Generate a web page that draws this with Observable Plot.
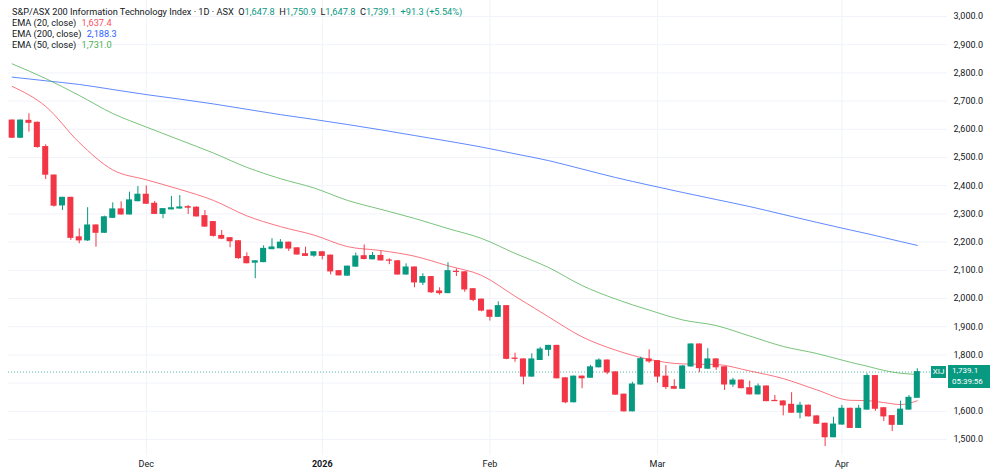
<!DOCTYPE html>
<html>
<head>
<meta charset="utf-8">
<script src="https://cdn.jsdelivr.net/npm/d3@7"></script>
<script src="https://cdn.jsdelivr.net/npm/@observablehq/plot@0.6"></script>
<style>
  html, body { margin: 0; padding: 0; background: #fff; overflow: hidden; }
  #wrap { position: relative; width: 1000px; height: 474px; overflow: hidden;
          font-family: Roboto, "Liberation Sans", sans-serif; color: #131722; }
  #wrap svg { display: block; }
  #legend { position: absolute; left: 12px; top: 5.5px; font-size: 9.2px; line-height: 11.3px; white-space: nowrap; }
  #legend .v { margin-left: 3px; }
  .tag { position: absolute; background: #089981; color: #fff; font-size: 8px; box-sizing: border-box; }
</style>
</head>
<body>
<div id="wrap"></div>
<script>
// Daily OHLC for the S&P/ASX 200 Information Technology Index (XIJ), Nov 2025 – Apr 2026
const openP  = [2631,2570,2630,2623,2537,2436,2330,2357,2217,2206,2259,2233,2286,2316,2298,2345,2368,2336,2300,2316,
                2319,2324,2322,2292,2271,2222,2214,2203,2147,2127,2129,2175,2178,2198,2178,2157,2152,2164,2152,2097,
                2081,2113,2150,2139,2151,2135,2132,2085,2110,2056,2076,2025,2019,2095,2093,2033,1996,1957,1935,1973,
                1787,1784,1723,1782,1818,1832,1717,1632,1723,1719,1756,1780,1738,1659,1600,1695,1784,1778,1723,1686,
                1680,1759,1837,1751,1784,1756,1695,1709,1682,1660,1688,1637,1635,1623,1595,1620,1582,1556,1508,1553,
                1609,1541,1606,1725,1611,1583,1552,1606,1647.8];
const highP  = [2633,2633,2655,2626,2545,2438,2359,2359,2247,2322,2261,2292,2339,2343,2377,2397,2399,2344,2319,2362,
                2365,2330,2325,2312,2273,2241,2216,2205,2162,2134,2187,2212,2209,2200,2180,2182,2166,2166,2154,2099,
                2115,2161,2190,2163,2168,2141,2135,2123,2112,2088,2078,2038,2127,2105,2095,2035,1998,1959,1988,1975,
                1806,1786,1804,1827,1834,1834,1719,1725,1725,1763,1786,1782,1740,1661,1703,1792,1818,1780,1762,1712,
                1762,1839,1839,1822,1786,1758,1717,1711,1707,1697,1690,1656,1637,1666,1632,1622,1584,1558,1579,1621,
                1611,1621,1733,1727,1613,1585,1636,1656,1750.9];
const lowP   = [2568,2568,2590,2533,2422,2324,2312,2206,2194,2202,2182,2231,2284,2296,2296,2343,2334,2298,2283,2314,
                2317,2298,2289,2252,2218,2209,2180,2139,2123,2070,2127,2173,2176,2167,2154,2149,2146,2137,2084,2080,
                2079,2111,2137,2137,2133,2120,2083,2083,2038,2046,2018,2012,2017,2078,2022,1989,1953,1920,1933,1783,
                1774,1694,1721,1780,1794,1715,1627,1630,1680,1717,1754,1730,1657,1597,1598,1693,1770,1700,1677,1678,
                1678,1757,1737,1749,1745,1674,1685,1680,1658,1658,1634,1635,1584,1593,1573,1580,1553,1475,1506,1551,
                1539,1539,1604,1600,1564,1528,1550,1604,1647.8];
const closeP = [2570,2631,2623,2537,2439,2329,2357,2215,2206,2259,2233,2288,2316,2298,2348,2368,2336,2300,2317,2320,
                2323,2322,2291,2255,2222,2212,2203,2143,2125,2132,2176,2181,2198,2177,2156,2151,2164,2151,2096,2082,
                2113,2149,2140,2151,2135,2134,2085,2110,2057,2076,2022,2019,2097,2094,2032,1995,1957,1935,1973,1786,
                1786,1723,1784,1819,1832,1717,1632,1723,1717,1756,1780,1738,1659,1600,1695,1785,1777,1723,1686,1680,
                1759,1837,1753,1784,1756,1695,1709,1682,1660,1688,1636,1636,1621,1595,1620,1582,1556,1508,1553,1609,
                1541,1609,1725,1609,1582,1552,1606,1647.8,1739.1];

// Moving averages read at every fourth session (bar index)
const emaIdx = [0,4,8,12,16,20,24,28,32,36,40,44,48,52,56,60,64,68,72,76,80,84,88,92,96,100,102,104,106,108];
const ema20  = [2752,2681,2553,2456,2421,2387,2348,2293,2255,2225,2184,2170,2150,2116,2082,2008,1935,1864,1817,1784,
                1768,1766,1743,1716,1676,1639,1638,1631,1624,1637.4];
const ema50  = [2832,2780,2720,2656,2608,2562,2516,2465,2425,2392,2348,2316,2284,2248,2213,2160,2110,2046,1998,1959,
                1924,1904,1867,1830,1805,1774,1760,1745,1735,1731.0];
const ema200 = [2785,2772,2759,2741,2723,2707,2690,2671,2652,2635,2617,2598,2578,2558,2537,2513,2489,2459,2429,2402,
                2376,2351,2326,2298,2270,2243,2230,2216,2202,2188.3];

// Time axis: first session of each month
const monthIdx    = [16, 37, 57, 77, 99];
const monthLabels = ["Dec", "2026", "Feb", "Mar", "Apr"];
const priceTicks  = d3.range(1500, 3001, 100);
// the 1,700 label sits under the last-price tag
const priceLabels = priceTicks.filter(v => v !== 1700);

const UP = "#089981", DOWN = "#f23645";
const C20 = "#f7525f", C50 = "#4caf50", C200 = "#2962ff";

const bars = closeP.map((c, i) => ({i, o: openP[i], h: highP[i], l: lowP[i], c, col: c >= openP[i] ? UP : DOWN}));
const emaRows = emaIdx.map((i, k) => ({i, e20: ema20[k], e50: ema50[k], e200: ema200[k]}));
const last = bars[bars.length - 1];
const monthLabel = new Map(monthIdx.map((d, k) => [d, monthLabels[k]]));

const chart = Plot.plot({
  width: 1000, height: 474,
  marginLeft: 8, marginRight: 53, marginTop: 0, marginBottom: 19,
  x: {type: "linear", domain: [-0.44, 111.6], axis: null, label: null},
  y: {type: "linear", domain: [1443.3, 3056.7], axis: null, label: null},
  color: {type: "identity"},
  style: {background: "#fff", fontFamily: "Roboto, 'Liberation Sans', sans-serif", fontSize: "9px", color: "#131722"},
  marks: [
    Plot.gridY(priceTicks, {stroke: "#f0f3fa", strokeOpacity: 1}),
    Plot.gridX(monthIdx, {stroke: "#f0f3fa", strokeOpacity: 1}),
    Plot.axisY(priceLabels, {anchor: "right", label: null, tickSize: 0, tickPadding: 6, tickFormat: d3.format(",.1f")}),
    Plot.axisX(monthIdx, {anchor: "bottom", label: null, tickSize: 0, tickPadding: 5.5, tickFormat: d => monthLabel.get(d)}),
    Plot.ruleY([last.c], {stroke: UP, strokeDasharray: "1,2", strokeOpacity: 0.7}),
    Plot.line(emaRows, {x: "i", y: "e200", stroke: C200, strokeWidth: 1, strokeOpacity: 0.75, curve: "monotone-x"}),
    Plot.line(emaRows, {x: "i", y: "e50", stroke: C50, strokeWidth: 1, strokeOpacity: 0.75, curve: "monotone-x"}),
    Plot.line(emaRows, {x: "i", y: "e20", stroke: C20, strokeWidth: 1, strokeOpacity: 0.8, curve: "monotone-x"}),
    Plot.ruleX(bars, {x: "i", y1: "l", y2: "h", stroke: "col", strokeWidth: 1}),
    Plot.rect(bars, {x1: d => d.i - 0.36, x2: d => d.i + 0.36, y1: "o", y2: "c", fill: "col",
                     insetTop: -0.5, insetBottom: -0.5})
  ]
});

d3.select(chart).selectAll("text").filter(function () { return this.textContent === "2026"; })
  .attr("font-weight", "bold");

const wrap = document.getElementById("wrap");
wrap.appendChild(chart);

// Header legend
const fmt = d3.format(",.1f");
const chg = last.c - bars[bars.length - 2].c;
const pct = chg / bars[bars.length - 2].c * 100;
const legend = document.createElement("div");
legend.id = "legend";
const t = s => `<span style="color:${UP}">${s}</span>`;
legend.innerHTML =
  `<div>S&amp;P/ASX 200 Information Technology Index · 1D · ASX&nbsp; O${t(fmt(last.o))}&nbsp; H${t(fmt(last.h))}&nbsp; L${t(fmt(last.l))}&nbsp; C${t(fmt(last.c))}&nbsp; ${t(`+${fmt(chg)} (+${pct.toFixed(2)}%)`)}</div>` +
  `<div>EMA (20, close) <span class="v" style="color:${C20}">${fmt(ema20[ema20.length - 1])}</span></div>` +
  `<div>EMA (200, close) <span class="v" style="color:${C200}">${fmt(ema200[ema200.length - 1])}</span></div>` +
  `<div>EMA (50, close) <span class="v" style="color:${C50}">${fmt(ema50[ema50.length - 1])}</span></div>`;
wrap.appendChild(legend);

// Last-price tags on the right edge
const yLast = chart.scale("y").apply(last.c);
const sym = document.createElement("div");
sym.className = "tag";
sym.style.cssText = `left:931px;top:${yLast - 5.5}px;width:15px;height:12px;line-height:12px;text-align:center;`;
sym.textContent = "XIJ";
wrap.appendChild(sym);
const price = document.createElement("div");
price.className = "tag";
price.style.cssText = `left:948px;top:${yLast - 6.5}px;width:42px;height:23px;line-height:10.5px;padding:1px 0 0 4px;`;
price.innerHTML = `${fmt(last.c)}<br>05:39:56`;
wrap.appendChild(price);
</script>
</body>
</html>
